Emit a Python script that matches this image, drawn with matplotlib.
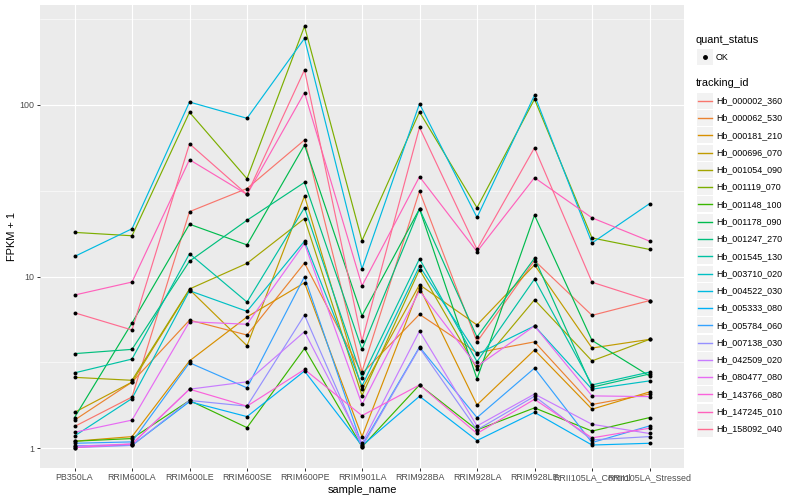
"""FPKM + 1 per sample for 20 tracking ids, ggplot-like look"""

import matplotlib
matplotlib.use("Agg")
import matplotlib.pyplot as plt
from matplotlib.lines import Line2D
from matplotlib.patches import Rectangle
import numpy as np

plt.rcParams['font.family'] = ['Liberation Sans', 'DejaVu Sans']

samples = ["PB350LA", "RRIM600LA", "RRIM600LE", "RRIM600SE", "RRIM600PE",
           "RRIM901LA", "RRIM928BA", "RRIM928LA", "RRIM928LE",
           "RRII105LA_Control", "RRII105LA_Stressed"]

tracking_ids = ["Hb_000002_360", "Hb_000062_530", "Hb_000181_210", "Hb_000696_070",
                "Hb_001054_090", "Hb_001119_070", "Hb_001148_100", "Hb_001178_090",
                "Hb_001247_270", "Hb_001545_130", "Hb_003710_020", "Hb_004522_030",
                "Hb_005333_080", "Hb_005784_060", "Hb_007138_030", "Hb_042509_020",
                "Hb_080477_080", "Hb_143766_080", "Hb_147245_010", "Hb_158092_040"]

# ggplot default hue palette for 20 levels
colors = ["#F8766D", "#EA8331", "#D89000", "#C09B00", "#A3A500", "#7CAE00", "#39B600",
          "#00BB4E", "#00BF7D", "#00C1A3", "#00BFC4", "#00BAE0", "#00B0F6", "#35A2FF",
          "#9590FF", "#C77CFF", "#E76BF3", "#FA62DB", "#FF62BC", "#FF6C91"]

# FPKM + 1 values, one list per tracking id
hb_000002_360 = [1.34, 1.99, 23.9, 32.6, 62.5, 2.80, 31.5, 4.17, 12.4, 5.95, 7.25]
hb_000062_530 = [1.46, 2.43, 5.58, 4.57, 12.0, 2.73, 6.03, 3.60, 4.17, 1.80, 2.07]
hb_000181_210 = [1.10, 1.17, 3.23, 5.82, 9.21, 1.17, 8.64, 1.79, 3.74, 1.69, 2.13]
hb_000696_070 = [1.62, 2.43, 8.40, 3.96, 29.5, 2.21, 8.97, 5.23, 11.7, 3.84, 4.31]
hb_001054_090 = [2.59, 2.49, 8.47, 11.95, 21.8, 2.03, 11.0, 2.91, 7.33, 3.23, 4.31]
hb_001119_070 = [18.1, 17.3, 90.6, 37.2, 287, 16.2, 91.0, 25.2, 108, 16.8, 14.4]
hb_001148_100 = [1.10, 1.14, 1.90, 1.32, 3.82, 1.02, 2.34, 1.28, 1.72, 1.26, 1.51]
hb_001178_090 = [1.51, 5.37, 20.2, 15.3, 58.4, 5.92, 24.8, 2.54, 22.8, 4.25, 2.64]
hb_001247_270 = [3.56, 3.77, 12.3, 21.3, 35.4, 3.77, 24.8, 4.45, 12.8, 2.27, 2.71]
hb_001545_130 = [2.75, 3.31, 13.6, 7.11, 25.2, 2.58, 12.7, 3.20, 9.68, 2.34, 2.78]
hb_003710_020 = [1.18, 1.95, 8.28, 6.28, 16.1, 2.31, 11.5, 3.53, 5.16, 2.21, 2.47]
hb_004522_030 = [13.1, 19.0, 104, 83.6, 244, 11.1, 101.6, 22.1, 114, 15.7, 26.6]
hb_005333_080 = [1.035, 1.04, 1.87, 1.53, 2.82, 1.035, 2.01, 1.11, 1.62, 1.045, 1.07]
hb_005784_060 = [1.07, 1.09, 3.15, 2.25, 9.99, 1.04, 3.89, 1.51, 2.93, 1.08, 1.35]
hb_007138_030 = [1.01, 1.04, 1.90, 1.76, 5.97, 1.02, 3.85, 1.28, 2.01, 1.12, 1.17]
hb_042509_020 = [1.03, 1.06, 2.21, 2.44, 4.78, 1.07, 4.82, 1.35, 2.07, 1.38, 1.22]
hb_080477_080 = [1.24, 1.46, 5.46, 5.28, 15.6, 1.80, 8.28, 3.00, 5.16, 2.02, 2.00]
hb_143766_080 = [1.01, 1.06, 2.21, 1.76, 2.88, 1.55, 2.34, 1.22, 1.93, 1.15, 1.31]
hb_147245_010 = [7.81, 9.30, 48.0, 30.1, 118, 8.85, 38.2, 14.0, 37.7, 22.0, 16.1]
hb_158092_040 = [6.16, 4.89, 59.4, 30.1, 160, 4.22, 74.0, 14.4, 56.3, 9.28, 7.25]

series = [hb_000002_360, hb_000062_530, hb_000181_210, hb_000696_070, hb_001054_090,
          hb_001119_070, hb_001148_100, hb_001178_090, hb_001247_270, hb_001545_130,
          hb_003710_020, hb_004522_030, hb_005333_080, hb_005784_060, hb_007138_030,
          hb_042509_020, hb_080477_080, hb_143766_080, hb_147245_010, hb_158092_040]

W, H = 800, 500
fig = plt.figure(figsize=(8, 5), dpi=100)
ax = fig.add_axes([40 / W, 1 - 468 / H, 644 / W, 463 / H])

x = np.arange(len(samples))
for vals, c in zip(series, colors):
    ax.plot(x, vals, color=c, lw=0.85, zorder=3)
for vals in series:
    ax.scatter(x, vals, s=8, color="black", zorder=4, linewidths=0)

ax.set_yscale("log")
ax.set_ylim(0.768, 382)
ax.set_xlim(-0.6, 10.6)

# ggplot grey theme
ax.set_facecolor("#EBEBEB")
for s in ax.spines.values():
    s.set_visible(False)
for yv in [10 ** 0.5, 10 ** 1.5, 10 ** 2.5]:
    ax.axhline(yv, color="white", lw=0.4, zorder=1)
for yv in [1, 10, 100]:
    ax.axhline(yv, color="white", lw=0.8, zorder=1)
for xv in x:
    ax.axvline(xv, color="white", lw=0.8, zorder=1)

ax.set_yticks([1, 10, 100])
ax.set_yticklabels(["1", "10", "100"])
ax.yaxis.set_minor_locator(matplotlib.ticker.NullLocator())
ax.set_xticks(x)
ax.set_xticklabels(samples)
ax.tick_params(axis="both", length=2, width=0.7, color="#333333",
               labelsize=6.4, labelcolor="#4D4D4D", pad=1.8)

ax.set_xlabel("sample_name", fontsize=7.9, labelpad=2)
ax.set_ylabel("FPKM + 1", fontsize=7.9, labelpad=2)

# legend drawn by hand to mimic ggplot keys
def fx(px):
    return px / W


def fy(py):
    return 1 - py / H


fig.text(fx(696), fy(40), "quant_status", fontsize=7.9, va="center", ha="left")
fig.patches.append(Rectangle((fx(697), fy(65)), 16 / W, 16 / H, transform=fig.transFigure,
                             facecolor="#F2F2F2", edgecolor="none"))
fig.lines.append(Line2D([fx(705)], [fy(57)], transform=fig.transFigure, marker="o",
                        markersize=2.5, color="black", linestyle="none"))
fig.text(fx(716), fy(57), "OK", fontsize=6.4, va="center", ha="left")

fig.text(fx(696), fy(83), "tracking_id", fontsize=7.9, va="center", ha="left")
for i, (tid, c) in enumerate(zip(tracking_ids, colors)):
    yc = 100.7 + i * 17.28
    fig.patches.append(Rectangle((fx(697), fy(yc + 8)), 16 / W, 16 / H,
                                 transform=fig.transFigure, facecolor="#F2F2F2",
                                 edgecolor="none"))
    fig.lines.append(Line2D([fx(698), fx(712)], [fy(yc), fy(yc)], transform=fig.transFigure,
                            color=c, lw=1.0))
    fig.text(fx(716), fy(yc), tid, fontsize=6.4, va="center", ha="left")

fig.savefig("out.png", dpi=100)
